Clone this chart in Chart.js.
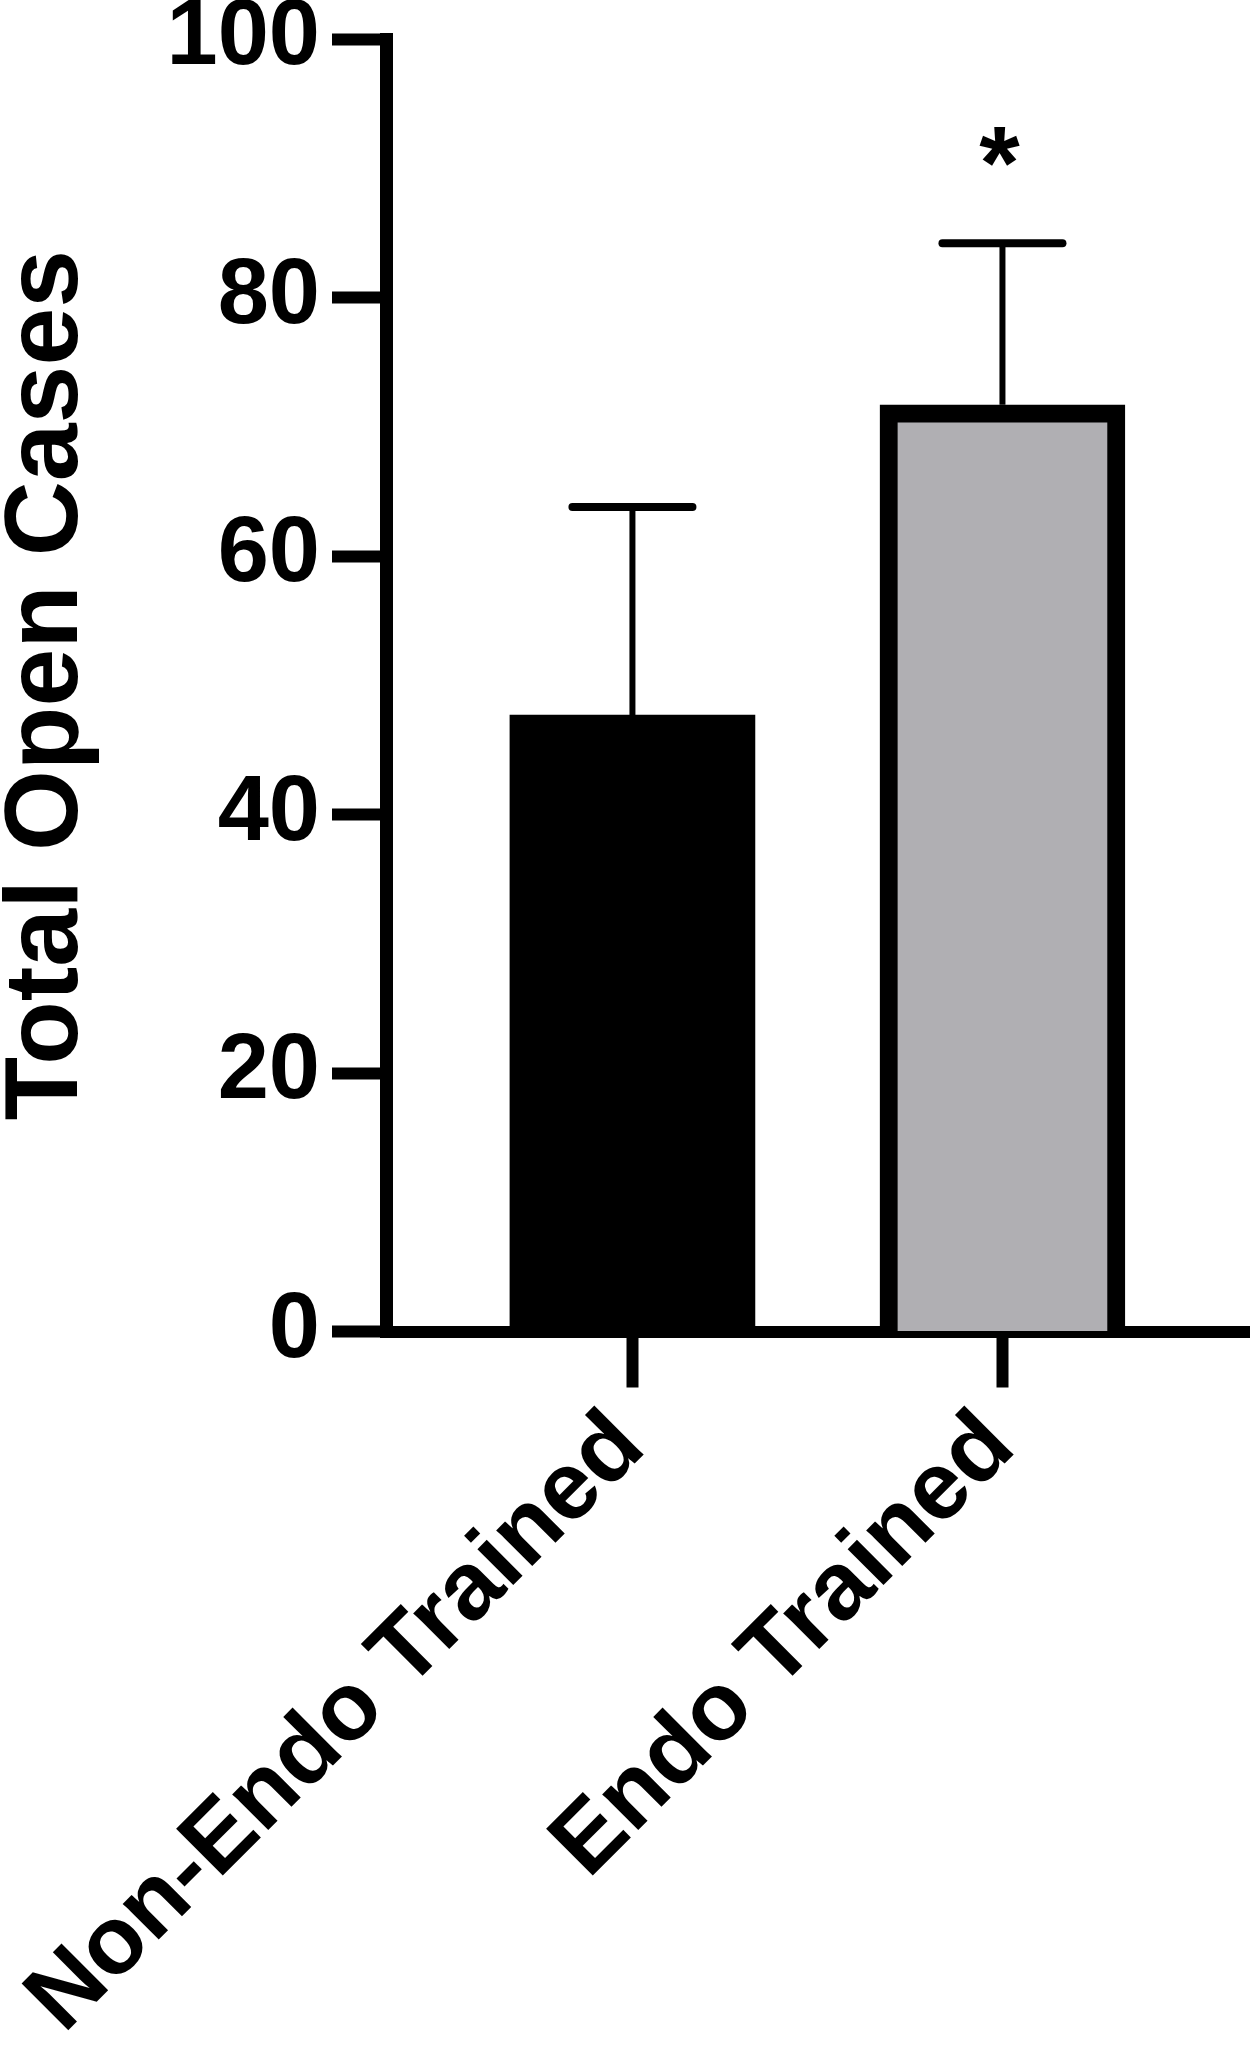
<!DOCTYPE html>
<html>
<head>
<meta charset="utf-8">
<title>Total Open Cases</title>
<script src="https://cdn.jsdelivr.net/npm/chart.js@4.4.1/dist/chart.umd.min.js"></script>
<style>
  html, body { margin: 0; padding: 0; background: #fff; }
  #wrap { width: 1250px; height: 2054px; }
</style>
</head>
<body>
<div id="wrap"><canvas id="chart" width="1250" height="2054"></canvas></div>
<script>
// values
const categories = ['Non-Endo Trained', 'Endo Trained'];
const positions = [0, 1];
const means = [47.7, 71.7];
const errors = [16.1, 12.5];      // upper error bar
const significance = ['', '*'];
const yTicks = [0, 20, 40, 60, 80, 100];
const barColors = ['#000000', '#b0afb3'];
const barBorders = [0, 18];

const FONT = "'Liberation Sans', Arial, Helvetica, sans-serif";

// error bars + significance star, drawn from the data through the scales
const errorBars = {
  id: 'errorBars',
  afterDatasetsDraw(chart) {
    const ctx = chart.ctx;
    const x = chart.scales.x;
    const y = chart.scales.y;
    ctx.save();
    ctx.strokeStyle = '#000';
    ctx.fillStyle = '#000';
    positions.forEach(function(p, i) {
      const px = x.getPixelForValue(p);
      const yMean = y.getPixelForValue(means[i]);
      const yTop = y.getPixelForValue(means[i] + errors[i]);
      ctx.lineWidth = 6;
      ctx.lineCap = 'butt';
      ctx.beginPath();
      ctx.moveTo(px, yMean);
      ctx.lineTo(px, yTop);
      ctx.stroke();
      ctx.lineWidth = 8;
      ctx.lineCap = 'round';
      ctx.beginPath();
      ctx.moveTo(px - 60, yTop);
      ctx.lineTo(px + 60, yTop);
      ctx.stroke();
      if (significance[i]) {
        ctx.font = 'bold 104px ' + FONT;
        ctx.textAlign = 'center';
        ctx.textBaseline = 'alphabetic';
        ctx.fillText(significance[i], px - 3, yTop - 44);
      }
    });
    ctx.restore();
  }
};

new Chart(document.getElementById('chart'), {
  type: 'bar',
  data: {
    datasets: [{
      data: positions.map(function(p, i) { return { x: p, y: means[i] }; }),
      backgroundColor: barColors,
      borderColor: '#000000',
      borderWidth: barBorders,
      borderSkipped: 'start',
      barThickness: 245
    }]
  },
  options: {
    responsive: false,
    animation: false,
    layout: { padding: { top: 39, left: 0, right: 0, bottom: 0 } },
    plugins: {
      legend: { display: false },
      tooltip: { enabled: false }
    },
    scales: {
      x: {
        type: 'linear',
        min: -0.666,
        max: 1.669,
        offset: false,
        z: 1,
        afterBuildTicks: function(scale) {
          scale.ticks = positions.map(function(p) { return { value: p }; });
        },
        afterFit: function(scale) {
          scale.height = 722.5;
          scale.paddingLeft = 0;
          scale.paddingRight = 0;
        },
        border: { display: true, color: '#000', width: 12 },
        grid: {
          offset: false,
          drawOnChartArea: false,
          drawTicks: true,
          tickLength: 56,
          tickWidth: 12,
          tickColor: '#000'
        },
        ticks: {
          autoSkip: false,
          minRotation: 45,
          maxRotation: 45,
          padding: 10,
          labelOffset: -3,
          color: '#000',
          font: { family: FONT, size: 96, weight: 'bold', lineHeight: 1 },
          callback: function(v) { return categories[positions.indexOf(v)]; }
        }
      },
      y: {
        min: 0,
        max: 100,
        afterBuildTicks: function(scale) {
          scale.ticks = yTicks.map(function(v) { return { value: v }; });
        },
        afterFit: function(scale) {
          scale.width = 386;
          scale.paddingTop = 0;
          scale.paddingBottom = 0;
        },
        border: { display: true, color: '#000', width: 13 },
        grid: {
          drawOnChartArea: false,
          drawTicks: true,
          tickLength: 54,
          tickWidth: 12,
          tickColor: '#000'
        },
        ticks: {
          padding: 12,
          color: '#000',
          font: { family: FONT, size: 92, weight: 'bold' }
        },
        title: {
          display: true,
          text: 'Total Open Cases',
          color: '#000',
          padding: { top: 2, bottom: 0 },
          font: { family: FONT, size: 104, weight: 'bold', lineHeight: 0.9 }
        }
      }
    }
  },
  plugins: [errorBars]
});
</script>
</body>
</html>
